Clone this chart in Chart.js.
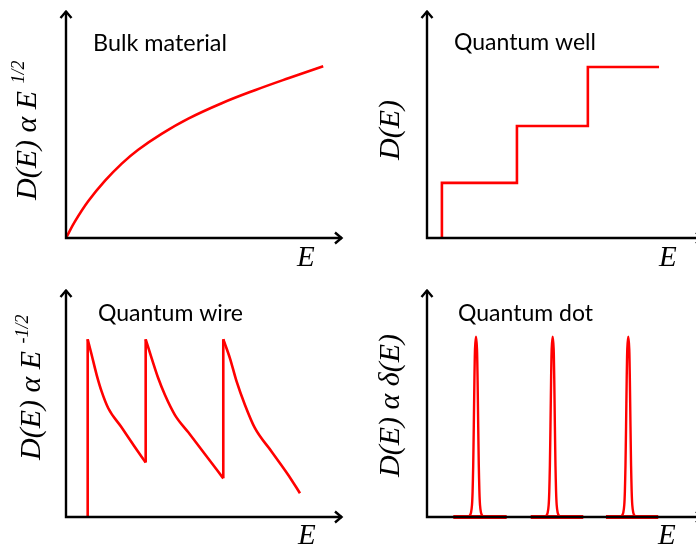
<!DOCTYPE html>
<html><head><meta charset="utf-8">
<script src="https://cdn.jsdelivr.net/npm/chart.js@4.4.1/dist/chart.umd.min.js"></script>
<style>
html,body{margin:0;padding:0;background:#fff;overflow:hidden}
#wrap{position:relative;width:696px;height:546px;overflow:hidden;background:#fff}
canvas{position:absolute}
</style></head><body>
<div id="wrap">
<canvas id="c1" width="361" height="279" style="left:0;top:0"></canvas>
<canvas id="c2" width="361" height="279" style="left:361px;top:0"></canvas>
<canvas id="c3" width="361" height="279" style="left:0;top:279px"></canvas>
<canvas id="c4" width="361" height="279" style="left:361px;top:279px"></canvas>
</div>
<script>
// ---- data (arbitrary units) ----
const titles = ["Bulk material", "Quantum well", "Quantum wire", "Quantum dot"];
const yLabelMain = ["D(E) \u03B1 E", "D(E)", "D(E) \u03B1 E", "D(E) \u03B1 \u03B4(E)"];
const yLabelSup = ["1/2", "", "-1/2", ""];
const xLabel = "E";

const bulkE = [0, 0.35, 0.87, 1.52, 2.17, 2.81, 3.72, 4.76, 6.06, 7.35, 8.65, 10.01];
const bulkD = [0, 0.97, 2.16, 3.35, 4.35, 5.16, 6.09, 6.98, 7.88, 8.64, 9.34, 10.04];

const wellEdges = [0.58, 3.50, 6.26, 9.03];
const wellLevels = [3.22, 6.55, 10.0];

// each tooth of the quantum-wire curve: jump position, then the decaying branch
const wireJumpE = [0.844, 3.101, 6.121];
const wireJumpFrom = [0, 3.18, 2.26];
const wireTopD = 10.39;
const wireTooth1E = [0.844, 1.0, 1.195, 1.389, 1.646, 2.167, 2.685, 3.101];
const wireTooth1D = [10.39, 9.47, 8.30, 7.33, 6.36, 5.23, 4.08, 3.18];
const wireTooth2E = [3.101, 3.335, 3.591, 3.852, 4.241, 4.759, 5.409, 6.121];
const wireTooth2D = [10.39, 9.28, 8.11, 7.13, 5.96, 4.95, 3.67, 2.26];
const wireTooth3E = [6.121, 6.381, 6.642, 6.965, 7.354, 8.004, 8.650, 9.105];
const wireTooth3D = [10.39, 9.28, 7.91, 6.55, 5.19, 3.82, 2.46, 1.39];

const dotCenters = [1.907, 4.891, 7.833];
const dotBaseStart = [1.023, 4.035, 6.965];
const dotBaseEnd = [3.101, 6.082, 9.0];
const peakOffsets = [-0.331, -0.253, -0.195, -0.156, -0.132, -0.109, -0.086, -0.062, -0.039, 0,
                     0.039, 0.062, 0.086, 0.109, 0.132, 0.156, 0.195, 0.253, 0.331];
const peakHeights = [0, 0.06, 0.25, 0.7, 1.5, 3.0, 5.3, 8.0, 9.8, 10.54,
                     9.8, 8.0, 5.3, 3.0, 1.5, 0.7, 0.25, 0.06, 0];

const X_MAX = 10.78, Y_MAX = 13.33;

// ---- build point tables ----
const zip = (xs, ys) => xs.map((x, i) => ({x: x, y: ys[i]}));
const bulkPts = zip(bulkE, bulkD);
const wellPts = [{x: wellEdges[0], y: 0}];
wellLevels.forEach((lv, i) => {
  wellPts.push({x: wellEdges[i], y: lv});
  wellPts.push({x: wellEdges[i + 1], y: lv});
});
const wireJumpPts = [];
wireJumpE.forEach((e, i) => {
  if (i > 0) wireJumpPts.push({x: e - 0.05, y: null});
  wireJumpPts.push({x: e, y: wireJumpFrom[i]});
  wireJumpPts.push({x: e, y: wireTopD});
});
const wireTeeth = [zip(wireTooth1E, wireTooth1D), zip(wireTooth2E, wireTooth2D), zip(wireTooth3E, wireTooth3D)];

const dotPts = [], dotBasePts = [];
dotCenters.forEach((c, k) => {
  if (k > 0) { dotPts.push({x: c - 0.5, y: null}); dotBasePts.push({x: dotBaseStart[k] - 0.1, y: null}); }
  peakOffsets.forEach((o, i) => dotPts.push({x: c + o, y: peakHeights[i]}));
  dotBasePts.push({x: dotBaseStart[k], y: 0});
  dotBasePts.push({x: dotBaseEnd[k], y: 0});
});

// ---- drawing helpers ----
function fitFont(ctx, text, family, weight, target, base) {
  ctx.font = weight + ' ' + base + 'px ' + family;
  const w = ctx.measureText(text).width;
  return base * target / w;
}

const axesPlugin = {
  id: 'panelAxes',
  afterDatasetsDraw(chart, args, o) {
    const ctx = chart.ctx, sx = chart.scales.x, sy = chart.scales.y;
    const x0 = sx.getPixelForValue(0), y0 = sy.getPixelForValue(0);
    const xe = sx.getPixelForValue(sx.max), ye = sy.getPixelForValue(sy.max);
    ctx.save();
    ctx.strokeStyle = '#000';
    ctx.lineWidth = 2.4;
    ctx.lineCap = 'butt';
    ctx.lineJoin = 'miter';
    ctx.beginPath();
    ctx.moveTo(x0, y0 + 1.2); ctx.lineTo(x0, ye + 1);
    ctx.moveTo(x0 - 1.2, y0); ctx.lineTo(xe - 1, y0);
    ctx.stroke();
    ctx.beginPath();
    ctx.moveTo(x0 - 5.5, ye + 8); ctx.lineTo(x0, ye + 1.5); ctx.lineTo(x0 + 5.5, ye + 8);
    ctx.moveTo(xe - 8, y0 - 5.5); ctx.lineTo(xe - 1.5, y0); ctx.lineTo(xe - 8, y0 + 5.5);
    ctx.stroke();

    // title
    ctx.fillStyle = '#000';
    ctx.textAlign = 'left';
    ctx.textBaseline = 'alphabetic';
    const tf = 'Lato, "Open Sans", sans-serif';
    const ts = fitFont(ctx, o.title, tf, 'normal', o.titleW, 21);
    ctx.font = 'normal ' + ts.toFixed(2) + 'px ' + tf;
    ctx.fillText(o.title, o.titleX, o.titleY);

    // x label
    ctx.font = 'italic 29px "Liberation Serif", "DejaVu Serif", serif';
    ctx.fillText(xLabel, o.eX, o.eY);

    // y label (rotated)
    ctx.save();
    ctx.translate(o.yBase, o.yStart);
    ctx.rotate(-Math.PI / 2);
    ctx.font = 'italic 30px "Liberation Serif", "DejaVu Serif", serif';
    ctx.fillText(o.yMain, 0, 0);
    if (o.ySup) {
      const w = ctx.measureText(o.yMain + ' ').width;
      ctx.font = 'italic 18px "Liberation Serif", "DejaVu Serif", serif';
      ctx.fillText(o.ySup, w, -12);
    }
    ctx.restore();
    ctx.restore();
  }
};

function ds(extra) {
  return Object.assign({
    borderColor: '#ff0000', borderWidth: 2.6, pointRadius: 0,
    fill: false, tension: 0, spanGaps: false, clip: 6,
    borderJoinStyle: 'round', borderCapStyle: 'butt'
  }, extra);
}

function makeChart(id, datasets, cfg) {
  return new Chart(document.getElementById(id), {
    type: 'line',
    data: {datasets: datasets.map(ds)},
    options: {
      responsive: false, animation: false, devicePixelRatio: 1,
      layout: {padding: {left: 66, right: 18, top: 10, bottom: 41}},
      plugins: {legend: {display: false}, tooltip: {enabled: false}, title: {display: false},
                panelAxes: cfg},
      scales: {
        x: {type: 'linear', min: 0, max: X_MAX, display: false},
        y: {type: 'linear', min: 0, max: Y_MAX, display: false}
      }
    },
    plugins: [axesPlugin]
  });
}

makeChart('c1', [{data: bulkPts, tension: 0.4}],
  {title: titles[0], titleX: 93, titleY: 51, titleW: 134, eX: 297, eY: 266,
   yBase: 36, yStart: 200, yMain: yLabelMain[0], ySup: yLabelSup[0]});
makeChart('c2', [{data: wellPts, borderJoinStyle: 'miter'}],
  {title: titles[1], titleX: 93, titleY: 50, titleW: 142, eX: 298, eY: 266,
   yBase: 38, yStart: 160, yMain: yLabelMain[1], ySup: yLabelSup[1]});
makeChart('c3', [{data: wireJumpPts}].concat(wireTeeth.map(t => ({data: t, cubicInterpolationMode: 'monotone'}))),
  {title: titles[2], titleX: 98, titleY: 42, titleW: 145, eX: 298, eY: 265,
   yBase: 40, yStart: 181, yMain: yLabelMain[2], ySup: yLabelSup[2]});
makeChart('c4', [{data: dotBasePts, borderWidth: 4.2}, {data: dotPts, borderWidth: 2.4, tension: 0.2}],
  {title: titles[3], titleX: 97, titleY: 42, titleW: 135, eX: 297, eY: 265,
   yBase: 38, yStart: 198, yMain: yLabelMain[3], ySup: yLabelSup[3]});
</script>
</body></html>
